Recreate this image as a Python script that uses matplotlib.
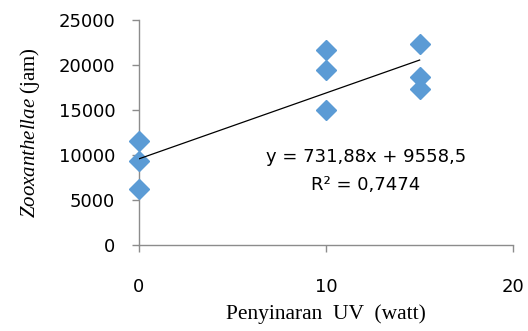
import numpy as np
import matplotlib.pyplot as plt

plt.rcParams['mathtext.fontset'] = 'custom'
plt.rcParams['mathtext.it'] = 'Liberation Serif:italic'
plt.rcParams['mathtext.rm'] = 'Liberation Serif'

# data
uv = [0, 0, 0, 10, 10, 10, 15, 15, 15]
zoox = [11500, 9300, 6200, 21600, 19400, 15000, 22300, 18600, 17300]
x_ticks = [0, 10, 20]
y_ticks = [0, 5000, 10000, 15000, 20000, 25000]
slope = 731.88
intercept = 9558.5

fig = plt.figure(figsize=(5.28, 3.31), dpi=100)
ax = fig.add_axes([0.263, 0.26, 0.709, 0.68])

ax.plot(uv, zoox, linestyle='none', marker='D', markersize=10,
        color='#5b9bd5', zorder=3, clip_on=False)

xs = np.array([min(uv), max(uv)])
ax.plot(xs, slope * xs + intercept, color='black', lw=0.9, zorder=4)

ax.set_xlim(0, 20)
ax.set_ylim(0, 25000)
ax.set_xticks(x_ticks)
ax.set_yticks(y_ticks)

for s in ['top', 'right']:
    ax.spines[s].set_visible(False)
for s in ['left', 'bottom']:
    ax.spines[s].set_color('#8c8c8c')
    ax.spines[s].set_linewidth(1)
ax.tick_params(axis='both', colors='#8c8c8c', length=5, width=1,
               labelcolor='black', labelsize=13)
ax.tick_params(axis='x', pad=19)
ax.tick_params(axis='y', pad=12)

ax.text(17.5, 9780, 'y = 731,88x + 9558,5', ha='right', va='center',
        fontsize=13)
ax.text(12.1, 6670, 'R² = 0,7474', ha='center', va='center', fontsize=13)

ax.set_xlabel('Penyinaran  UV  (watt)', family='Liberation Serif',
              fontsize=15.5, labelpad=6)
ax.set_ylabel(r'$\it{Zooxanthellae}$ (jam)', family='Liberation Serif',
              fontsize=15, labelpad=12)

fig.savefig('out.png', dpi=100)
